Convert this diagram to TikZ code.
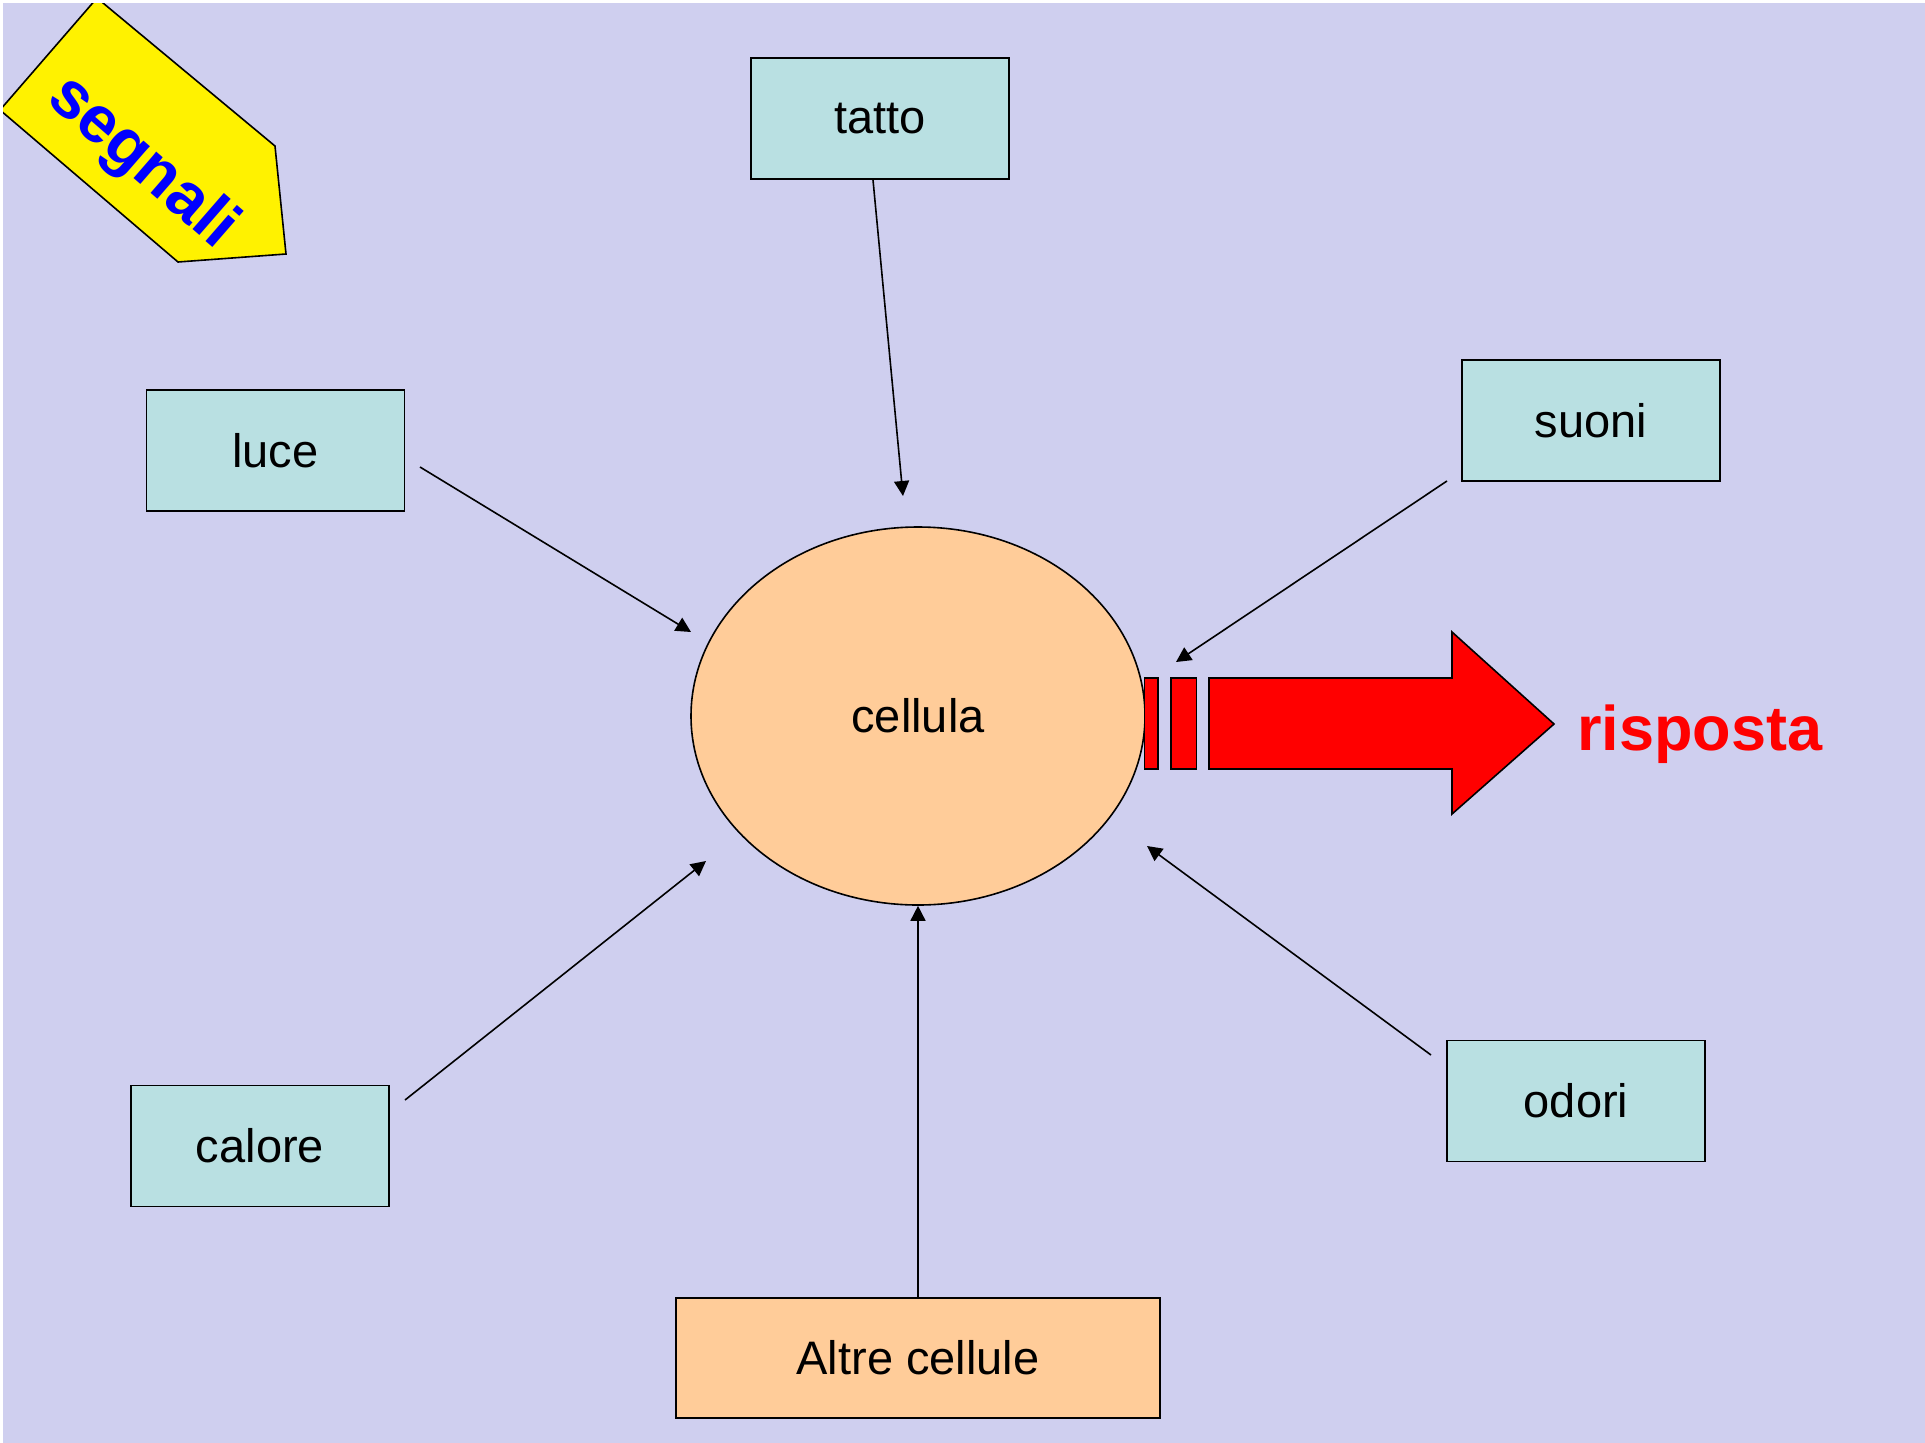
\documentclass[tikz,border=0pt]{standalone}
\usepackage{fontspec}
\setmainfont{Liberation Sans}
\usetikzlibrary{arrows.meta,shapes.geometric}
\definecolor{bgcol}{RGB}{207,207,239}
\definecolor{boxcol}{RGB}{185,224,226}
\definecolor{peach}{RGB}{255,204,153}
\tikzset{
  sigbox/.style={draw=black,line width=1.6pt,fill=boxcol,minimum width=258pt,minimum height=121pt,inner sep=0pt,font=\fontsize{47}{56}\selectfont},
  sigarrow/.style={draw=black,line width=1.6pt,-{Triangle[width=15pt,length=15pt]}},
  redpart/.style={draw=black,line width=1.6pt,fill=red},
}
\begin{document}
\begin{tikzpicture}[x=1pt,y=-1pt]
\useasboundingbox (0,0) rectangle (1925,1443);
\fill[white] (0,0) rectangle (1925,1443);
\fill[bgcol] (3,3) rectangle (1925,1443);
% segnali arrow
\draw[fill=yellow,line width=1.6pt] (97,-2) -- (275,146) -- (286,254) -- (178,262) -- (0,110) -- cycle;
\fill[white] (0,0) rectangle (1925,3);
\fill[white] (0,0) rectangle (3,1443);
\node[font=\bfseries\fontsize{66}{70}\selectfont,text=blue,rotate=-41] (seg) at (142,163) {segnali};
% boxes
\node[sigbox] (tatto) at (880,118.5) {tatto};
\node[sigbox] (luce) at (275.5,450.5) {luce};
\node[sigbox] (suoni) at (1591,420.5) {suoni};
\node[sigbox] (calore) at (260,1146) {calore};
\node[sigbox] (odori) at (1576,1101) {odori};
\node[sigbox,fill=peach,minimum width=484pt,minimum height=120pt] (altre) at (918,1358) {Altre cellule};
\node[ellipse,draw=black,line width=1.6pt,fill=peach,minimum width=454pt,minimum height=378pt,inner sep=0pt,font=\fontsize{47}{56}\selectfont] (cell) at (918,716) {cellula};
% connector end points
\coordinate (tattoS) at (873,180);
\coordinate (tattoE) at (903,496);
\coordinate (luceS) at (420,467);
\coordinate (luceE) at (691,632);
\coordinate (suoniS) at (1447,481);
\coordinate (suoniE) at (1176,662);
\coordinate (caloreS) at (405,1100);
\coordinate (caloreE) at (706,861);
\coordinate (odoriS) at (1431,1055);
\coordinate (odoriE) at (1147,846);
\draw[sigarrow] (tattoS) -- (tattoE);
\draw[sigarrow] (luceS) -- (luceE);
\draw[sigarrow] (suoniS) -- (suoniE);
\draw[sigarrow] (caloreS) -- (caloreE);
\draw[sigarrow] (odoriS) -- (odoriE);
\draw[sigarrow] (altre.north) -- (cell.south);
% response arrow
\draw[redpart] (1144.5,678) rectangle (1158,769);
\draw[redpart] (1171,678) rectangle (1196.5,769);
\draw[redpart] (1209,678) -- (1452,678) -- (1452,632) -- (1554,724) -- (1452,814) -- (1452,769) -- (1209,769) -- cycle;
\node[anchor=base west,inner sep=0pt,text=red,font=\bfseries\fontsize{63}{70}\selectfont] (risp) at (1577,750) {risposta};
\end{tikzpicture}
\end{document}
